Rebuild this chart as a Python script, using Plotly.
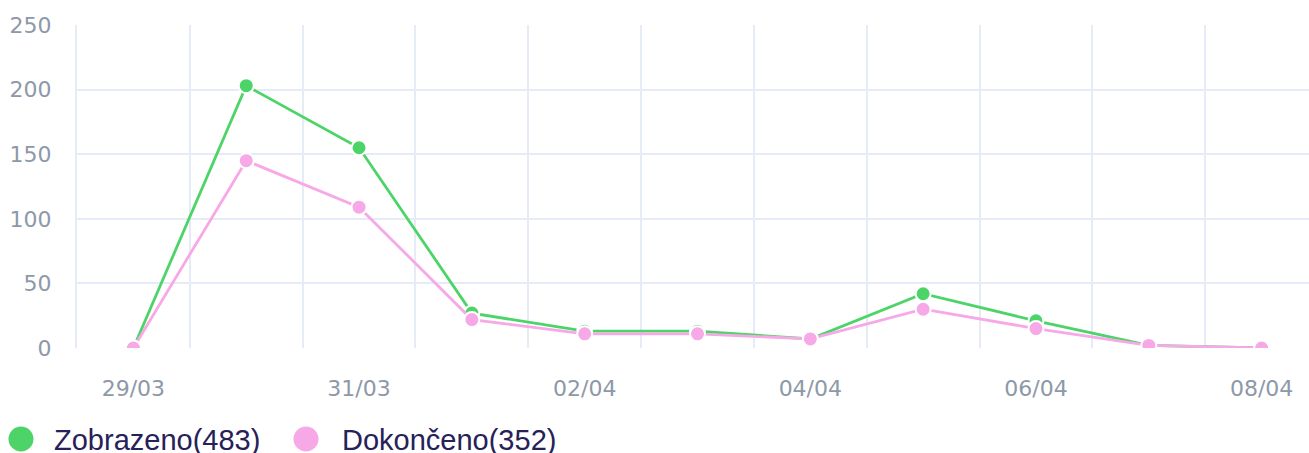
import plotly.graph_objects as go

dates = ["29/03", "30/03", "31/03", "01/04", "02/04", "03/04", "04/04", "05/04", "06/04", "07/04", "08/04"]
zobrazeno = [0, 203, 155, 27, 13, 13, 7, 42, 21, 2, 0]
dokonceno = [0, 145, 109, 22, 11, 11, 7, 30, 15, 2, 0]
series_names = ["Zobrazeno", "Dokončeno"]
colors = ["#4cd468", "#f7a8e6"]
y_ticks = [0, 50, 100, 150, 200, 250]

idx = list(range(len(dates)))
fig = go.Figure()

for name, vals, col in [(series_names[0], zobrazeno, colors[0]), (series_names[1], dokonceno, colors[1])]:
    fig.add_trace(go.Scatter(
        x=idx, y=vals, mode="lines+markers", name=f"{name}({sum(vals)})",
        line=dict(color=col, width=2.8),
        marker=dict(color=col, size=15, line=dict(color="white", width=2)),
        showlegend=False,
    ))

grid = "#e5ebf7"
fig.update_layout(
    width=1309, height=453,
    margin=dict(l=77, r=0, t=25, b=105),
    plot_bgcolor="white", paper_bgcolor="white",
    xaxis=dict(
        range=[-0.5, 10.42],
        tickmode="array", tickvals=idx[::2], ticktext=dates[::2],
        showgrid=False, zeroline=False, showline=False,
        ticks="outside", ticklen=21, tickcolor="rgba(0,0,0,0)",
        tickfont=dict(family="DejaVu Sans", size=22, color="#8d98a8"),
        minor=dict(tickvals=[i - 0.5 for i in range(12)], showgrid=True, gridcolor=grid, gridwidth=2, ticks=""),
    ),
    yaxis=dict(
        range=[0, 250], tickvals=y_ticks,
        showgrid=True, gridcolor=grid, gridwidth=2, zeroline=False,
        showline=True, linecolor=grid, linewidth=2,
        ticks="outside", ticklen=19, tickcolor="rgba(0,0,0,0)",
        tickfont=dict(family="DejaVu Sans", size=22, color="#8d98a8"),
    ),
)

# Legend (manual, to match large circular symbols)
legend_items = [
    (f"{series_names[0]}({sum(zobrazeno)})", colors[0], 21, 52),
    (f"{series_names[1]}({sum(dokonceno)})", colors[1], 306, 340),
]
legend_y = 439
for text, col, cx, tx in legend_items:
    fig.add_shape(type="circle", xref="paper", yref="paper", xsizemode="pixel", ysizemode="pixel",
                  xanchor=(cx - 77) / 1232, yanchor=(348 - legend_y) / 323,
                  x0=-12.5, x1=12.5, y0=-12.5, y1=12.5, fillcolor=col, line=dict(width=0))
    fig.add_annotation(text=text, xref="paper", yref="paper", x=(tx - 77) / 1232, y=(348 - legend_y - 1) / 323,
                       xanchor="left", yanchor="middle", showarrow=False,
                       font=dict(family="Liberation Sans", size=29, color="#27215a"))

fig.write_html("out.html", config={"displayModeBar": False},
               post_script="document.body.style.margin='0';")
